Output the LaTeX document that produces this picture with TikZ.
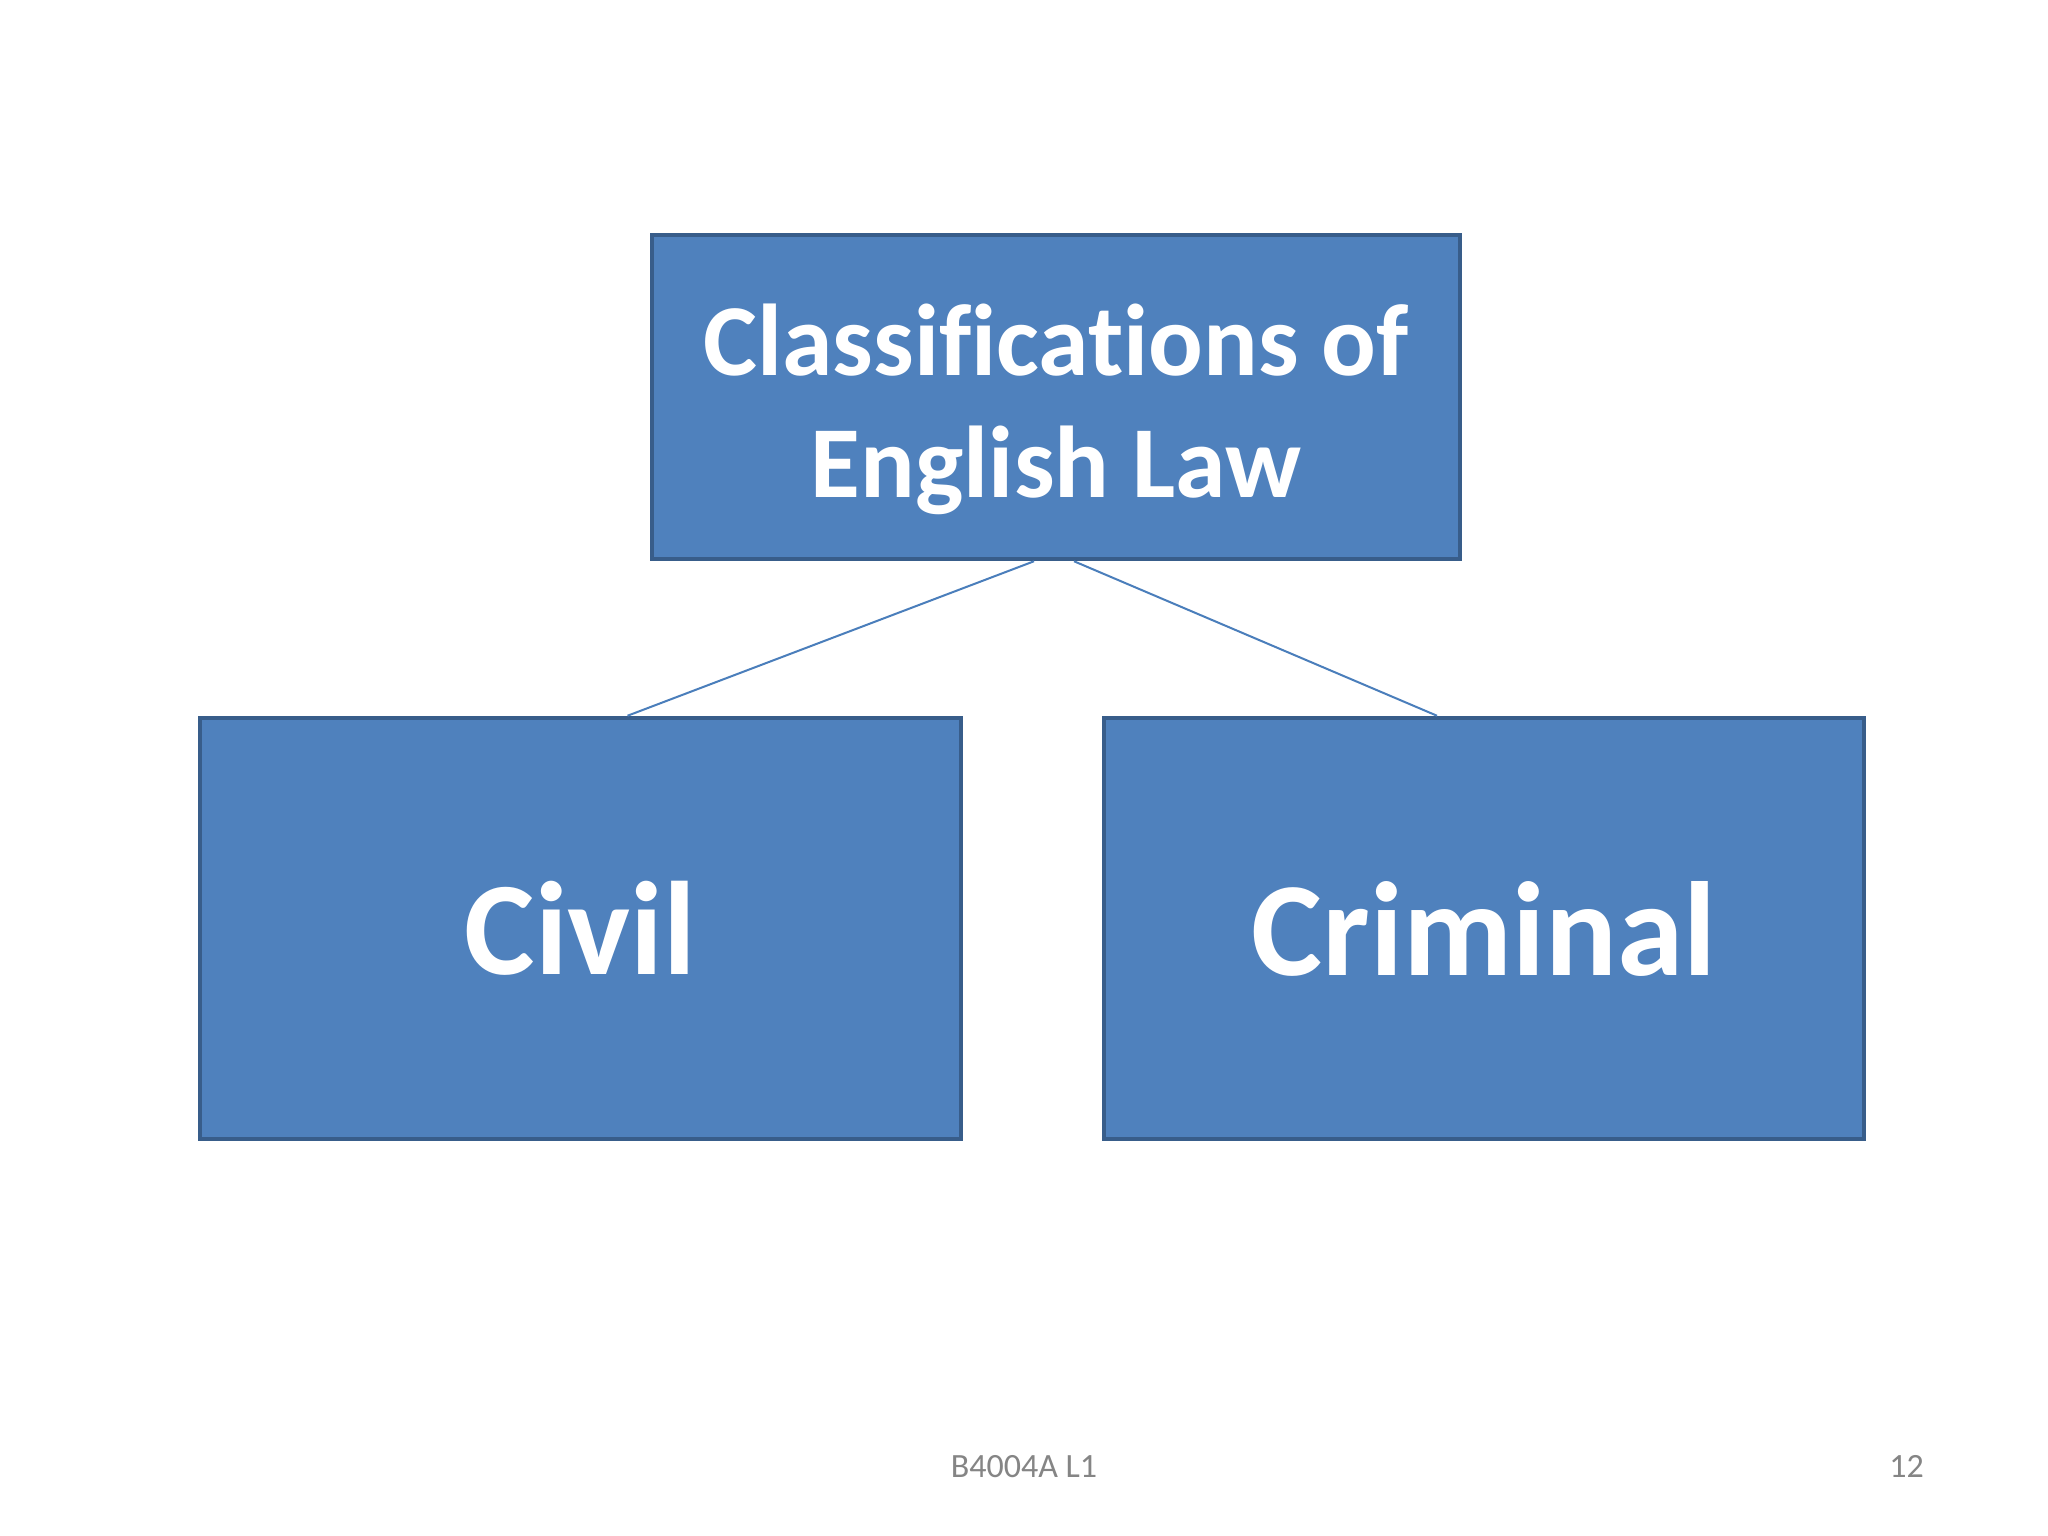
\documentclass[tikz,border=0pt]{standalone}
\usepackage{fontspec}
\setmainfont{Carlito}[Ligatures=NoCommon]
\definecolor{boxfill}{HTML}{4F81BD}
\definecolor{boxline}{HTML}{385D8A}
\definecolor{conn}{HTML}{4A7EBB}
\definecolor{foot}{HTML}{858585}
\begin{document}
\begin{tikzpicture}[x=1pt,y=-1pt,
  box/.style={draw=boxline,fill=boxfill,line width=4.5pt,inner sep=0pt},
  boxtext/.style={text=white,align=center,inner sep=0pt},
  link/.style={draw=conn,line width=2pt},
  footer/.style={text=foot,font=\fontsize{34}{40}\selectfont,inner sep=0pt}]
\useasboundingbox[fill=white] (0,0) rectangle (2048,1536);
\node[box,minimum width=808pt,minimum height=324pt] (top) at (1056,397) {};
\node[boxtext,font=\bfseries\fontsize{102}{122}\selectfont] (toptext) at ([yshift=-12pt]top.center) {Classifications of\\English Law};
\node[box,minimum width=761pt,minimum height=421pt] (civil) at (580.5,928.5) {};
\node[boxtext,font=\bfseries\fontsize{133}{150}\selectfont] (civiltext) at (civil.center) {Civil};
\node[box,minimum width=760pt,minimum height=421pt] (crim) at (1484,928.5) {};
\node[boxtext,font=\bfseries\fontsize{134}{150}\selectfont] (crimtext) at (crim.center) {Criminal};
\draw[link] ([xshift=-22pt]top.south) -- ([xshift=47pt]civil.north);
\draw[link] ([xshift=18pt]top.south) -- ([xshift=-47pt]crim.north);
\node[footer,anchor=base] (code) at (1024,1477) {B4004A L1};
\node[footer,anchor=base east] (page) at (1924,1477) {12};
\end{tikzpicture}
\end{document}
